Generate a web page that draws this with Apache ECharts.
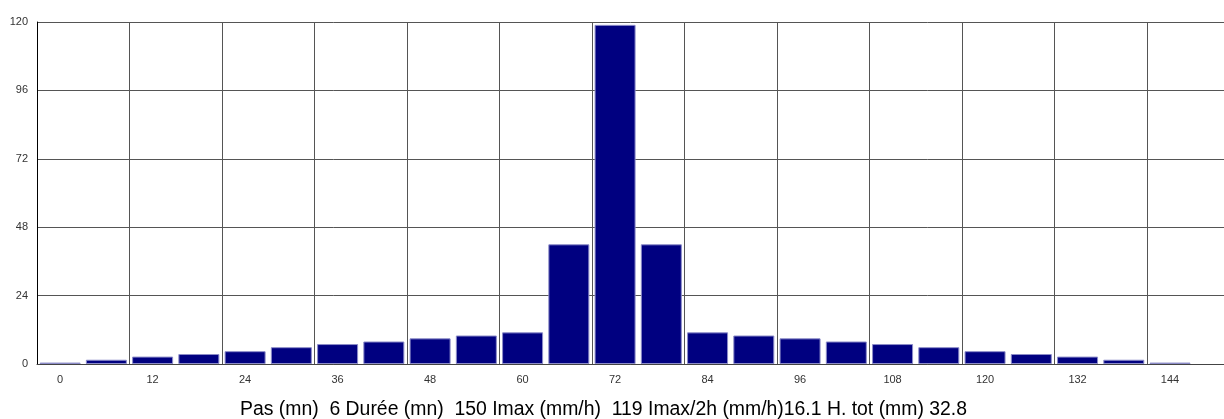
<!DOCTYPE html>
<html>
<head>
<meta charset="utf-8">
<script src="https://cdn.jsdelivr.net/npm/echarts@6/dist/echarts.min.js"></script>
<style>
  html, body { margin: 0; padding: 0; background: #fff; }
  #chart { width: 1224px; height: 419px; }
</style>
</head>
<body>
<div id="chart"></div>
<script>
// Time steps (minutes) and rainfall intensity (mm/h) of the design storm
const steps = [0, 6, 12, 18, 24, 30, 36, 42, 48, 54, 60, 66, 72, 78, 84, 90, 96, 102, 108, 114, 120, 126, 132, 138, 144];
const intensity = [0.5, 1.5, 2.6, 3.5, 4.5, 5.9, 7.0, 7.9, 9.0, 10.0, 11.1, 42.0, 119, 42.0, 11.1, 10.0, 9.0, 7.9, 7.0, 5.9, 4.5, 3.5, 2.6, 1.5, 0.5];

// Axis labels
const xLabels = [0, 12, 24, 36, 48, 60, 72, 84, 96, 108, 120, 132, 144];
const yTicks = [0, 24, 48, 72, 96, 120];

// Summary line under the chart
const summary = 'Pas (mn)  6 Durée (mn)  150 Imax (mm/h)  119 Imax/2h (mm/h)16.1 H. tot (mm) 32.8';

const FONT = '"Liberation Sans", Arial, sans-serif';
const chart = echarts.init(document.getElementById('chart'), null, { renderer: 'canvas' });

chart.setOption({
  animation: false,
  backgroundColor: '#ffffff',
  grid: { left: 37, right: 0, top: 22, bottom: 55, containLabel: false },
  title: {
    text: summary,
    left: 240,
    top: 400,
    padding: 0,
    textStyle: { fontFamily: FONT, fontSize: 19.4, fontWeight: 'normal', color: '#000' }
  },
  xAxis: {
    type: 'value',
    min: -3,
    max: 151,
    interval: 12,
    axisLine: { show: true, onZero: false, lineStyle: { color: '#444', width: 1 } },
    axisTick: { show: false },
    splitLine: { show: true, lineStyle: { color: '#555', width: 1 } },
    axisLabel: {
      customValues: xLabels,
      fontFamily: FONT, fontSize: 11, color: '#333', margin: 10
    }
  },
  yAxis: {
    type: 'value',
    min: yTicks[0],
    max: yTicks[yTicks.length - 1],
    interval: 24,
    axisLine: { show: true, onZero: false, lineStyle: { color: '#000', width: 1 } },
    axisTick: { show: false },
    splitLine: { show: true, lineStyle: { color: '#555', width: 1 } },
    axisLabel: { fontFamily: FONT, fontSize: 11, color: '#333', margin: 9 }
  },
  series: [{
    type: 'bar',
    data: steps.map((t, i) => [t, intensity[i]]),
    barWidth: 41,
    itemStyle: { color: '#000080', borderColor: '#8c8cc8', borderWidth: 1 }
  }]
});
</script>
</body>
</html>
